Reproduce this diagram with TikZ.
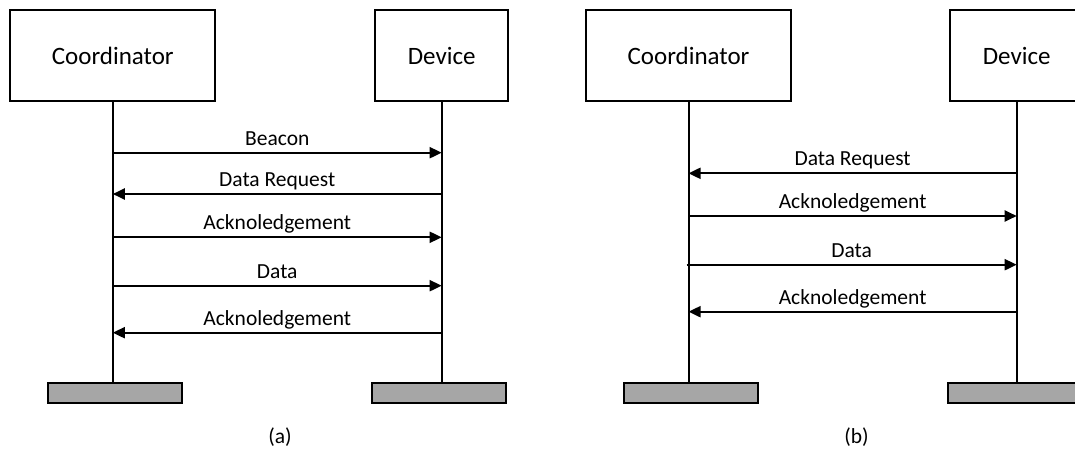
\documentclass[tikz,border=0pt]{standalone}
\usepackage{fontspec}
\setmainfont{Carlito}
\usetikzlibrary{arrows.meta}

\definecolor{bargray}{HTML}{A6A6A6}

\tikzset{
  entity/.style={draw, line width=2pt, inner sep=0pt, font=\fontsize{25}{30}\selectfont},
  coordbox/.style={entity, minimum width=205pt, minimum height=91pt},
  devbox/.style={entity, minimum width=133pt, minimum height=91pt},
  endbar/.style={draw, line width=2pt, fill=bargray, minimum width=134pt, minimum height=20pt, inner sep=0pt},
  lifeline/.style={line width=2pt},
  msg/.style={line width=2pt, -{Triangle[length=12pt,width=11pt]}},
  msglabel/.style={anchor=south, inner sep=4pt, text height=0.75em, text depth=0.25em,
                   font=\fontsize{21.5}{26}\selectfont},
  caption/.style={font=\fontsize{21.5}{26}\selectfont}
}

\begin{document}
\begin{tikzpicture}[x=1pt, y=-1pt]
  \clip (0,0) rectangle (1075,452);
  \useasboundingbox (0,0) rectangle (1075,452);

  % ---------- (a) beacon-enabled transfer ----------
  \node[coordbox] (coordA) at (112.8,55.5) {Coordinator};
  \node[devbox]   (devA)   at (441.7,55.5) {Device};
  \node[endbar]   (barA1)  at (115,392.5) {};
  \node[endbar]   (barA2)  at (439,392.5) {};
  \draw[lifeline] (coordA.south) -- (coordA.south |- barA1.north);
  \draw[lifeline] (devA.south) -- (devA.south |- barA2.north);

  \foreach \n/\y in {1/152.7, 2/194, 3/237.3, 4/285.7, 5/332.7} {
    \coordinate (ac\n) at (coordA.south |- 0,\y);
    \coordinate (ad\n) at (devA.south |- 0,\y);
  }
  \draw[msg] (ac1) -- node[msglabel] {Beacon} (ad1);
  \draw[msg] (ad2) -- node[msglabel] {Data Request} (ac2);
  \draw[msg] (ac3) -- node[msglabel] {Acknoledgement} (ad3);
  \draw[msg] (ac4) -- node[msglabel] {Data} (ad4);
  \draw[msg] (ad5) -- node[msglabel] {Acknoledgement} (ac5);

  \node[caption] (capA) at (280,437) {(a)};

  % ---------- (b) non-beacon transfer ----------
  \node[coordbox] (coordB) at (688.5,55.5) {Coordinator};
  \node[devbox]   (devB)   at (1016.7,55.5) {Device};
  \node[endbar]   (barB1)  at (691.2,392.5) {};
  \node[endbar]   (barB2)  at (1014.7,392.5) {};
  \draw[lifeline] (coordB.south) -- (coordB.south |- barB1.north);
  \draw[lifeline] (devB.south) -- (devB.south |- barB2.north);

  \foreach \n/\y in {1/173.3, 2/216, 3/264.7, 4/311.7} {
    \coordinate (bc\n) at (coordB.south |- 0,\y);
    \coordinate (bd\n) at (devB.south |- 0,\y);
  }
  \draw[msg] (bd1) -- node[msglabel] {Data Request} (bc1);
  \draw[msg] (bc2) -- node[msglabel] {Acknoledgement} (bd2);
  \draw[msg] ([xshift=-2pt]bc3) -- node[msglabel] {Data} (bd3);
  \draw[msg] (bd4) -- node[msglabel] {Acknoledgement} (bc4);

  \node[caption] (capB) at (856.5,437) {(b)};
\end{tikzpicture}
\end{document}
